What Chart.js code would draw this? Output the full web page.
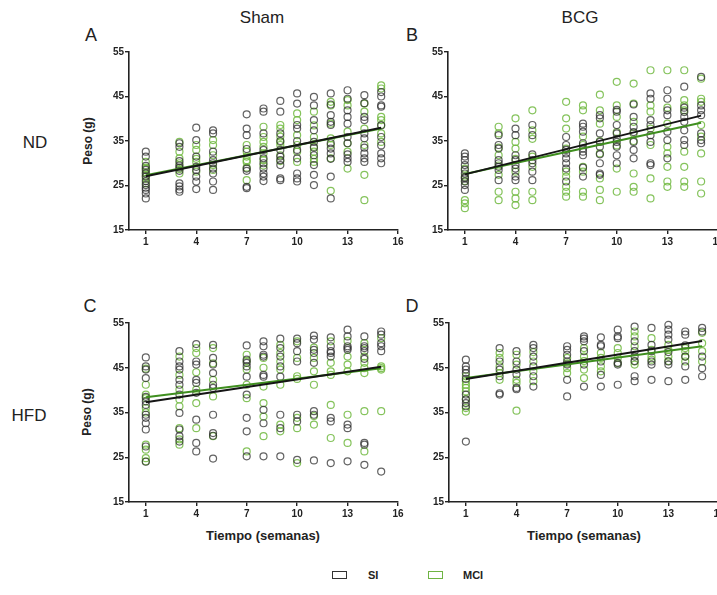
<!DOCTYPE html>
<html lang="es">
<head>
  <meta charset="UTF-8">
  <title>Peso vs tiempo</title>
  <script src="https://cdn.jsdelivr.net/npm/chart.js"></script>
  <style>
    body {
      margin: 0;
      width: 717px;
      height: 595px;
      overflow: hidden;
      position: relative;
      background: #fff;
      font-family: "Liberation Sans", Arial, sans-serif;
      color: #222;
    }
    canvas { position: absolute; }
    .lbl {
      position: absolute;
      transform: translate(-50%, -50%);
      white-space: nowrap;
      line-height: 1;
    }
    .col { font-size: 17px; }
    .row { font-size: 17px; }
    .letter { font-size: 18px; }
    .ytitle { font-size: 12px; font-weight: bold; transform: translate(-50%, -50%) rotate(-90deg); }
    .xtitle { font-size: 13px; font-weight: bold; }
    .legbox { position: absolute; width: 13px; height: 6px; border: 1.3px solid #333; background: #fff; }
    .legtxt { position: absolute; font-size: 11px; font-weight: bold; transform: translateY(-50%); line-height: 1; }
  </style>
</head>
<body>
  <div class="lbl col" style="left:262px; top:17px;">Sham</div>
  <div class="lbl col" style="left:580px; top:17px;">BCG</div>
  <div class="lbl row" style="left:35px; top:142px;">ND</div>
  <div class="lbl row" style="left:29px; top:415px;">HFD</div>
  <div class="lbl letter" style="left:91px; top:35px;">A</div>
  <div class="lbl letter" style="left:412px; top:35px;">B</div>
  <div class="lbl letter" style="left:90px; top:306px;">C</div>
  <div class="lbl letter" style="left:412px; top:306px;">D</div>
  <div class="lbl ytitle" style="left:88px; top:141px;">Peso (g)</div>
  <div class="lbl ytitle" style="left:87px; top:412px;">Peso (g)</div>
  <div class="lbl xtitle" style="left:263px; top:535px;">Tiempo (semanas)</div>
  <div class="lbl xtitle" style="left:584px; top:535px;">Tiempo (semanas)</div>

  <div class="legbox" style="left:332px; top:571px;"></div>
  <div class="legtxt" style="left:368px; top:575px;">SI</div>
  <div class="legbox" style="left:428px; top:571px; border-color:#6fb443;"></div>
  <div class="legtxt" style="left:463px; top:575px;">MCI</div>

  <canvas id="chartA"></canvas>
  <canvas id="chartB"></canvas>
  <canvas id="chartC"></canvas>
  <canvas id="chartD"></canvas>

  <script>
    // semanas con medición
    const weeks = [1, 3, 4, 5, 7, 8, 9, 10, 11, 12, 13, 14, 15];
    const xTicks = [1, 4, 7, 10, 13, 16];
    const yTicks = [15, 25, 35, 45, 55];

    // A: Sham / ND
    const shamND_SI = [
      [32.6, 31.5, 29.4, 27.7, 27, 26, 25.1, 24, 23.2, 22.1, 28.5, 24.5],
      [34.5, 33.7, 30.5, 29.5, 29, 28.3, 25.5, 24.8, 24.1, 23.6],
      [38, 35.2, 31.5, 29.2, 28.5, 27, 25.9, 24.2],
      [37.4, 36.7, 32.6, 30.7, 30, 28.8, 27.7, 25.9, 24],
      [41, 37.8, 36.3, 33.2, 28.8, 28.3, 24.7, 24.4],
      [42.3, 41.6, 36.7, 33, 31.1, 30, 28.8, 27.7, 27, 26],
      [44, 41.6, 36.7, 35, 33, 31.5, 30.7, 29.6, 26.6, 26.2],
      [45.7, 43.4, 38.6, 37.8, 35, 33, 31.1, 27.7, 26.6, 25.9],
      [44.9, 43, 39.7, 37.4, 34.8, 33.5, 31.8, 29.6, 27.4, 25.1],
      [45.7, 43.2, 40.8, 39.3, 38.6, 34.5, 33.3, 32.2, 31, 27, 22.1],
      [46.4, 44.5, 41.9, 40.4, 38.9, 35.9, 34.5, 32, 31.1, 30.3],
      [45.3, 43.5, 40.4, 39.7, 36.7, 35.6, 33.5, 32.2, 31.1, 30.3],
      [46, 45, 43, 42.7, 38.5, 35.9, 34, 32.2, 31.1, 30]
    ];
    const shamND_MCI = [
      [30.3, 29, 28, 27.2, 26.5, 25.5, 28.8],
      [34.8, 32.6, 31.1, 30, 28.7, 27.7],
      [34.1, 33, 31, 30.3, 28.1],
      [35.2, 34.1, 31.8, 29.6, 28.5],
      [34.1, 32.6, 31.5, 30.7, 30.3, 29, 26.2],
      [38.2, 35.9, 34.8, 33.7, 32.2, 30.7, 29.5],
      [38.6, 37.8, 36, 34.8, 34.1, 31.8, 30.5],
      [41.2, 39.7, 36.3, 34.1, 32.6, 30.3],
      [41.6, 38.5, 35.9, 33.7, 32.6, 31, 30.3],
      [43.8, 43, 38.9, 35.6, 34.1, 31.1, 23.8],
      [44.2, 43, 37.1, 34.5, 32.6, 28.8],
      [43.4, 41.6, 37.8, 34.1, 27.4, 21.7],
      [47.5, 46.8, 40.4, 39.7, 38.6, 36.7, 34.8]
    ];

    // B: BCG / ND
    const bcgND_SI = [
      [32.2, 31.5, 30.7, 29.6, 28.5, 27.7, 26.6, 25.9, 25.1, 24, 26.8],
      [36.3, 34.1, 33.3, 30.7, 30, 29.2, 28.5, 26.2],
      [37.8, 36.3, 31.8, 30.7, 29.6, 28.8, 27, 26.2],
      [38.6, 36.3, 32, 30.7, 30, 28.1, 26.2],
      [35.9, 34.1, 33, 32.2, 31.1, 30, 28.8, 25.9],
      [38.9, 38.2, 37.1, 34.5, 33.3, 32.6, 31.8, 29, 27],
      [40.8, 40.1, 36.7, 34.8, 33.7, 32, 30, 27.7, 27.4],
      [42, 41.6, 38.6, 36.7, 35.5, 34.8, 33.7, 31.8, 30],
      [43.2, 40.4, 38.2, 37, 34.8, 33, 31.1],
      [45.7, 44.5, 39.7, 38.6, 36.3, 34.8, 30, 29.6],
      [46.4, 44.5, 41.9, 40.8, 37.1, 35.2, 31.1],
      [47.2, 42.5, 41.5, 40.4, 39.3, 37.4, 35.2, 34.1],
      [49.4, 43, 41.9, 40.8, 36.7, 35.2, 34.5]
    ];
    const bcgND_MCI = [
      [28.8, 27, 26, 21.7, 21, 19.9],
      [38.2, 36.7, 33.5, 31.8, 29.5, 27.4, 23.6, 21.7],
      [40.1, 34.8, 33.3, 31, 28.1, 23.6, 22.1, 20.6],
      [41.9, 37.4, 35.5, 31.5, 29.2, 23.6, 21.7],
      [43.8, 40.1, 37.8, 33.3, 28.1, 27, 24.7, 23.6, 22.5],
      [43, 41.9, 36, 34.1, 29.2, 28.1, 23.6, 22.5],
      [45.4, 41.9, 38.9, 35, 32.2, 26.6, 24, 21.7],
      [48.3, 43, 40.4, 37, 34, 28.8, 23.6],
      [47.9, 43.4, 39.3, 36.7, 35, 27.7, 24.7, 23.6],
      [50.9, 43, 41.6, 37.8, 34.1, 26.6, 22.1],
      [50.9, 42.5, 38.9, 33.7, 32.2, 29.2, 25.9, 24.7],
      [50.9, 44.2, 43, 41.9, 32.6, 29.2, 25.9, 24.7],
      [49, 44.5, 43.8, 38.6, 36, 32.2, 25.9, 23.2]
    ];

    // C: Sham / HFD
    const shamHFD_SI = [
      [47.3, 45.3, 44.6, 42.7, 38.5, 37.5, 36.7, 34.5, 33.8, 32.6, 31.2, 27.4, 24],
      [48.7, 46.4, 45.3, 44.6, 42.3, 41.2, 39, 34.9, 31.2, 29.7, 28.5],
      [50.3, 46.4, 45.7, 42.3, 41.6, 39.4, 33.4, 28.2, 26.3],
      [50.1, 47.2, 45.7, 43.8, 41.2, 40.5, 34.5, 30.4, 29.8, 24.7],
      [50, 46.8, 46.1, 45.3, 43, 39, 33.8, 30.8, 25.2],
      [50.9, 49.8, 47.9, 47.5, 43.4, 43, 35.6, 32.6, 25.2],
      [51.5, 49.4, 47.5, 45.3, 43, 34.5, 31.5, 25.2],
      [51.5, 50.5, 48.7, 46.4, 34.5, 33, 24.4],
      [52.2, 51.3, 49, 48.3, 46.1, 35.3, 34.5, 24.3],
      [51.8, 49.8, 48.7, 48.3, 47.5, 33.8, 33, 23.7],
      [53.5, 52, 49.8, 49.4, 49, 32.3, 31.5, 24.1],
      [52, 49.8, 49.4, 48.7, 47, 28.2, 27.8, 23.3],
      [53.1, 52.4, 50.5, 49.8, 48.7, 21.8]
    ];
    const shamHFD_MCI = [
      [44.8, 41.2, 39, 38.2, 36, 35, 27.8, 26.7, 24.8, 24.1],
      [47.5, 43.4, 40.1, 37.9, 36.4, 31.5, 29, 27.8],
      [49.4, 48.3, 44, 40.1, 37.1, 31.5],
      [49.4, 46, 42.3, 38.6, 29.7],
      [47.9, 46.5, 44.6, 41.2, 38.2, 26.3],
      [47.2, 45, 40.8, 37.1, 34.1, 29.7],
      [50.1, 48.3, 46.4, 44.6, 41.2, 32.3, 30.8],
      [50.9, 47.2, 43.1, 42.5, 33.8, 31.5, 23.7],
      [49.5, 47.2, 44.2, 41.2, 34.2, 32.3],
      [50.9, 46.1, 44.2, 43.4, 36.7, 29.3],
      [51, 47.5, 45.7, 44.2, 34.5, 28.2],
      [50.5, 47.5, 46.1, 44.9, 43.8, 35.3, 26.3],
      [51.6, 45.3, 44.9, 44.6, 35.3]
    ];

    // D: BCG / HFD
    const bcgHFD_SI = [
      [46.8, 45.3, 44.6, 43.8, 42.5, 39, 37.9, 37.1, 36.4, 28.5],
      [49.4, 46.4, 44.6, 43.1, 39.3, 39],
      [48.7, 46.4, 44.6, 43.5, 40.5, 40.2],
      [50.1, 49.4, 47.5, 45.3, 43.1, 40.8],
      [49.8, 49, 47.9, 46.4, 45.7, 42.3, 38.6],
      [52, 51.5, 50.9, 48.7, 45.7, 40.8],
      [51.8, 50.1, 49.8, 46.4, 43.4, 40.8],
      [53.5, 52, 51.6, 46.1, 45.7, 41.2],
      [54.2, 50.9, 48.7, 47.5, 46.5, 43.1, 42],
      [53.9, 50.1, 48.7, 46.4, 45.7, 42.3],
      [54.6, 53.5, 52.4, 51.3, 48.5, 46.4, 45.7, 42],
      [53.1, 52.4, 50, 47.5, 45.3, 42.3],
      [53.9, 53.1, 47.5, 44.9, 43.1]
    ];
    const bcgHFD_MCI = [
      [43.1, 42, 41.2, 40.5, 39.7, 38, 36, 35.2],
      [48.3, 47.2, 45.3, 43.8, 42.3],
      [47.9, 45.7, 42.3, 41.6, 35.4],
      [48.5, 46.4, 44.2, 42],
      [47.2, 46, 44.9, 43.8],
      [49.4, 47.5, 46.5, 44.6, 42.7],
      [48.3, 47.2, 45.3, 44.2],
      [49.4, 48.3, 47.2, 46],
      [53.1, 52, 49.8, 46.4, 45.7],
      [51.6, 49, 47.5, 46.8],
      [50.1, 49, 47.5, 46.5],
      [49.4, 48.7, 47.5, 46.4],
      [52.8, 50.5, 48.7, 46.4]
    ];

    // rectas de regresión (semana 1 -> semana 15)
    const fitWeeks = [1, 15];
    const shamND_SI_fit = [27.1, 38.0];
    const shamND_MCI_fit = [27.3, 37.8];
    const bcgND_SI_fit = [27.5, 40.7];
    const bcgND_MCI_fit = [27.6, 39.1];
    const shamHFD_SI_fit = [37.3, 45.2];
    const shamHFD_MCI_fit = [38.4, 44.9];
    const bcgHFD_SI_fit = [42.5, 51.0];
    const bcgHFD_MCI_fit = [42.7, 49.8];

    const colSI = 'rgba(45,45,45,0.75)';
    const colMCI = 'rgba(112,184,64,0.85)';
    const lineSI = '#151515';
    const lineMCI = '#3f8f1f';

    function toPoints(groups) {
      const pts = [];
      groups.forEach((vals, i) => {
        vals.forEach(v => pts.push({ x: weeks[i], y: v }));
      });
      return pts;
    }
    function toLine(vals) {
      return fitWeeks.map((w, i) => ({ x: w, y: vals[i] }));
    }

    // area = chart area in page pixels
    function makePanel(id, area, si, mci, siFit, mciFit) {
      const padL = 50, padT = 12, padR = 16, padB = 24;
      const cv = document.getElementById(id);
      const w = Math.round(area.right - area.left) + padL + padR;
      const h = Math.round(area.bottom - area.top) + padT + padB;
      cv.width = w; cv.height = h;
      cv.style.left = (area.left - padL) + 'px';
      cv.style.top = (area.top - padT) + 'px';
      cv.style.width = w + 'px';
      cv.style.height = h + 'px';

      const tickFont = { family: '"Liberation Sans", Arial, sans-serif', size: 10, weight: 'bold' };

      new Chart(cv, {
        type: 'scatter',
        data: {
          datasets: [
            { data: toLine(siFit), showLine: true, borderColor: lineSI, borderWidth: 2, pointRadius: 0, order: 0, clip: false },
            { data: toLine(mciFit), showLine: true, borderColor: lineMCI, borderWidth: 2, pointRadius: 0, order: 1, clip: false },
            { data: toPoints(si), borderColor: colSI, backgroundColor: 'rgba(0,0,0,0)', pointRadius: 3.5, borderWidth: 1.2, order: 2, clip: false },
            { data: toPoints(mci), borderColor: colMCI, backgroundColor: 'rgba(0,0,0,0)', pointRadius: 3.5, borderWidth: 1.2, order: 3, clip: false }
          ]
        },
        options: {
          responsive: false,
          animation: false,
          layout: { padding: { left: 0, top: padT, right: padR, bottom: 0 } },
          plugins: { legend: { display: false }, tooltip: { enabled: false } },
          scales: {
            x: {
              type: 'linear',
              min: 0,
              max: 16,
              afterBuildTicks: s => { s.ticks = xTicks.map(v => ({ value: v })); },
              afterFit: s => { s.height = padB; },
              border: { display: true, color: '#222', width: 1.6 },
              grid: { display: true, drawOnChartArea: false, drawTicks: true, tickLength: 4, color: '#222', lineWidth: 1.4 },
              ticks: { color: '#222', font: tickFont, padding: 2, maxRotation: 0, autoSkip: false }
            },
            y: {
              min: 15,
              max: 55,
              afterBuildTicks: s => { s.ticks = yTicks.map(v => ({ value: v })); },
              afterFit: s => { s.width = padL; },
              border: { display: true, color: '#222', width: 1.6 },
              grid: { display: true, drawOnChartArea: false, drawTicks: true, tickLength: 4, color: '#222', lineWidth: 1.4 },
              ticks: { color: '#222', font: tickFont, padding: 1 }
            }
          }
        }
      });
    }

    makePanel('chartA', { left: 129, top: 52, right: 398, bottom: 230 }, shamND_SI, shamND_MCI, shamND_SI_fit, shamND_MCI_fit);
    makePanel('chartB', { left: 448, top: 52, right: 718, bottom: 230 }, bcgND_SI, bcgND_MCI, bcgND_SI_fit, bcgND_MCI_fit);
    makePanel('chartC', { left: 129, top: 323, right: 398, bottom: 502 }, shamHFD_SI, shamHFD_MCI, shamHFD_SI_fit, shamHFD_MCI_fit);
    makePanel('chartD', { left: 449, top: 323, right: 719, bottom: 502 }, bcgHFD_SI, bcgHFD_MCI, bcgHFD_SI_fit, bcgHFD_MCI_fit);
  </script>
</body>
</html>
